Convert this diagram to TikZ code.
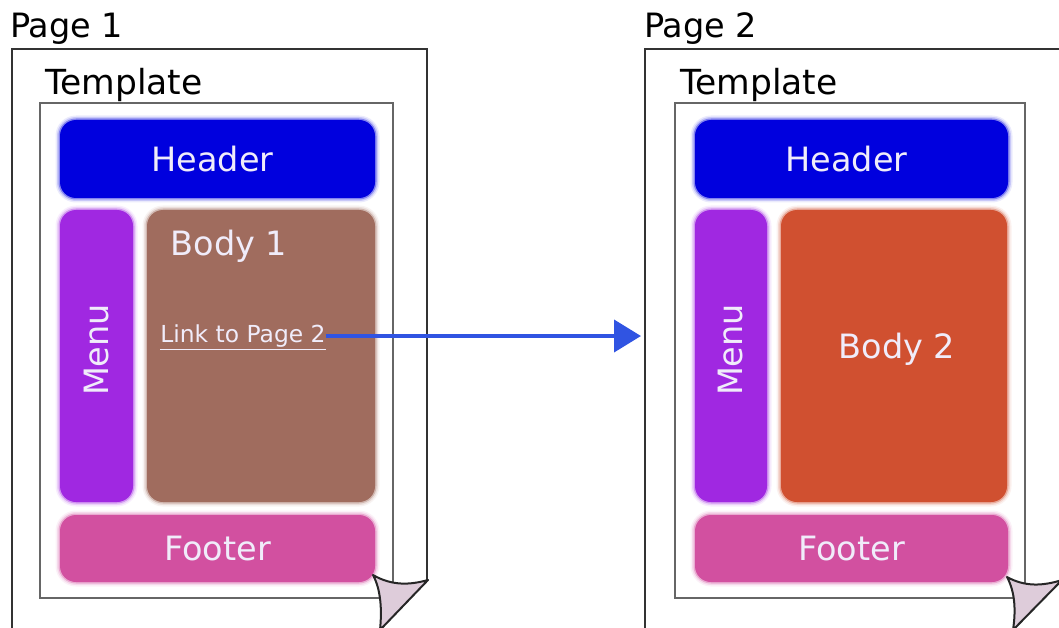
\documentclass[tikz,border=0pt]{standalone}
\usepackage{fontspec}
\setmainfont{DejaVu Sans}
\usetikzlibrary{arrows.meta}
\definecolor{hdrc}{RGB}{0,0,222}
\definecolor{menuc}{RGB}{160,40,225}
\definecolor{bodyac}{RGB}{160,108,94}
\definecolor{bodybc}{RGB}{208,80,48}
\definecolor{footc}{RGB}{210,80,160}
\definecolor{curlc}{RGB}{222,204,218}
\definecolor{arrc}{RGB}{48,84,226}
\definecolor{lighttxt}{RGB}{240,236,250}
\tikzset{
  box/.style={fill=#1, rounded corners=16pt, inner sep=0pt,
    preaction={draw=#1, line width=9pt, draw opacity=0.08, rounded corners=16pt},
    preaction={draw=#1, line width=6pt, draw opacity=0.15, rounded corners=16pt},
    preaction={draw=#1, line width=3pt, draw opacity=0.35, rounded corners=16pt},
    text=lighttxt, font=\fontsize{33.5}{40}\selectfont},
  lbl/.style={inner sep=0pt, font=\fontsize{33.5}{40}\selectfont},
  tlbl/.style={inner sep=0pt, font=\fontsize{34.5}{41}\selectfont},
  pageline/.style={draw=black!80, line width=2pt},
  tmplline/.style={draw=black!60, line width=1.5pt},
  curl/.style={draw=black!85, line width=2pt, fill=curlc, line join=round},
}
\begin{document}
\begin{tikzpicture}[x=1pt,y=-1pt]
\useasboundingbox (0,0) rectangle (1059,628);
% ---------- Page 1 ----------
\node[lbl, anchor=base west] (pg1) at (10,38) {Page 1};
\draw[pageline] (12,640) -- (12,49) -- (427,49) -- (427,580);
\node[tlbl, anchor=base west] (tp1) at (45,95) {Template};
\draw[tmplline] (40,103) rectangle (393,598);
\node[box=hdrc, minimum width=315, minimum height=78, text width=305, align=center] (hdr1) at (217.5,159) {Header\hspace*{10pt}};
\node[box=menuc, rotate=90, minimum width=292, minimum height=73] (menu1) at (96.5,356) {\hspace*{12pt}Menu};
\node[box=bodyac, minimum width=228, minimum height=292] (body1) at (261,356) {};
\node[lbl, text=lighttxt] (b1t) at (229,246) {Body 1};
\node[inner sep=0pt, text=lighttxt, font=\fontsize{23.4}{27}\selectfont] (link) at (243,337) {\underline{Link to Page 2}};
\node[box=footc, minimum width=315, minimum height=67] (foot1) at (217.5,548.5) {Footer};
\draw[curl] (373,575) .. controls (392,586) and (410,585) .. (428,580) -- (380,630) .. controls (382,610) and (381,590) .. (373,575) -- cycle;
% ---------- Page 2 ----------
\node[lbl, anchor=base west] (pg2) at (644,38) {Page 2};
\draw[pageline] (645,640) -- (645,49) -- (1062,49) -- (1062,581);
\coordinate (p2w) at (641,336);
\node[tlbl, anchor=base west] (tp2) at (680,95) {Template};
\draw[tmplline] (675,103) rectangle (1025,598);
\node[box=hdrc, minimum width=313, minimum height=78, text width=303, align=center] (hdr2) at (851.5,159) {Header\hspace*{10pt}};
\node[box=menuc, rotate=90, minimum width=292, minimum height=72] (menu2) at (731,356) {\hspace*{12pt}Menu};
\node[box=bodybc, minimum width=226, minimum height=292] (body2) at (894,356) {};
\node[lbl, text=lighttxt] (b2t) at (897,349) {Body 2};
\node[box=footc, minimum width=313, minimum height=67] (foot2) at (851.5,548.5) {Footer};
\draw[curl] (1007,577) .. controls (1025,587) and (1043,586) .. (1062,580) -- (1013,630) .. controls (1016,610) and (1015,592) .. (1007,577) -- cycle;
% ---------- Arrow ----------
\draw[arrc, line width=4pt, -{Triangle[length=27pt,width=32pt]}] (link.east |- p2w) -- (p2w);
\end{tikzpicture}
\end{document}
